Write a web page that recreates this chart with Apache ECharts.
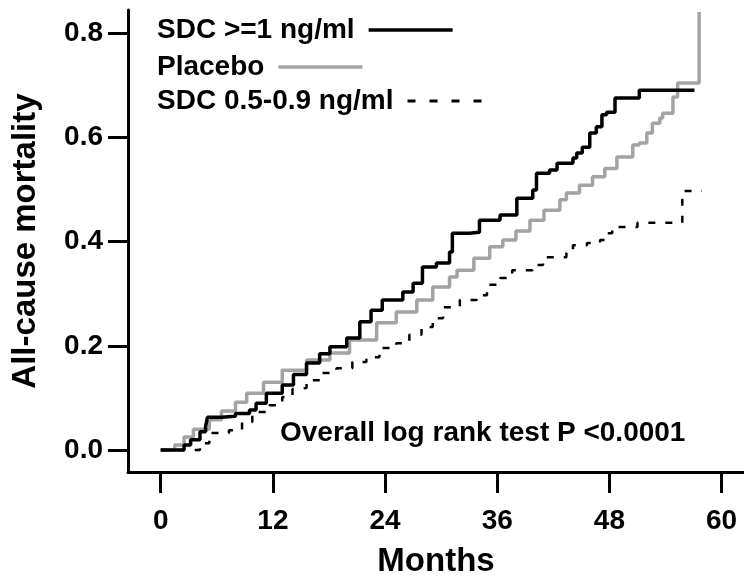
<!DOCTYPE html>
<html>
<head>
<meta charset="utf-8">
<script src="https://cdn.jsdelivr.net/npm/echarts@6/dist/echarts.min.js"></script>
<style>
  html, body { margin: 0; padding: 0; background: #fff; }
  #main { width: 744px; height: 584px; }
</style>
</head>
<body>
<div id="main"></div>
<script>
// 横轴刻度 / 纵轴刻度
const xTicks = [0, 12, 24, 36, 48, 60];
const yTicks = [0, 0.2, 0.4, 0.6, 0.8];

const seriesNames = ['SDC >=1 ng/ml', 'Placebo', 'SDC 0.5-0.9 ng/ml'];

// [month, mortality] pairs
const highSdc = [
  [0, 0], [1.5, 0], [2.5, 0.01], [3.2, 0.02], [4.2, 0.035], [4.8, 0.045], [5.0, 0.063],
  [6.5, 0.065], [8.0, 0.07], [9.5, 0.077], [10.2, 0.09], [11.3, 0.109], [13.0, 0.125],
  [14.2, 0.145], [15.6, 0.167], [17.0, 0.185], [18.1, 0.198], [19.9, 0.215], [21.3, 0.246],
  [22.5, 0.268], [23.7, 0.288], [25.9, 0.303], [27.0, 0.32], [28.0, 0.351], [29.5, 0.359],
  [30.9, 0.38], [31.2, 0.416], [33.0, 0.418], [34.1, 0.441], [36.3, 0.451], [38.1, 0.483],
  [39.8, 0.499], [40.2, 0.531], [41.6, 0.537], [42.4, 0.55], [44.1, 0.56], [44.5, 0.57],
  [45.1, 0.581], [45.9, 0.608], [46.6, 0.62], [47.2, 0.643], [47.7, 0.648], [48.6, 0.675],
  [51.2, 0.69], [57.1, 0.69]
];
const placebo = [
  [0, 0], [0.8, 0], [1.5, 0.01], [2.5, 0.025], [3.5, 0.04], [5.2, 0.058], [6.5, 0.075],
  [8.0, 0.092], [9.2, 0.109], [11.0, 0.13], [13.0, 0.153], [15.6, 0.173], [18.1, 0.186],
  [20.2, 0.211], [23.1, 0.244], [25.2, 0.265], [27.4, 0.288], [29.1, 0.313], [30.9, 0.332],
  [31.7, 0.345], [33.5, 0.368], [35.2, 0.39], [36.6, 0.403], [38.0, 0.42], [39.5, 0.441],
  [41.0, 0.46], [42.7, 0.48], [43.4, 0.493], [44.8, 0.508], [46.2, 0.524], [47.5, 0.54],
  [48.8, 0.562], [50.5, 0.585], [51.2, 0.589], [52.0, 0.608], [52.6, 0.627], [53.4, 0.637],
  [53.7, 0.646], [54.8, 0.677], [55.3, 0.704], [57.6, 0.84]
];
const lowSdc = [
  [0, 0], [3.7, 0], [4.2, 0.013], [5.2, 0.033], [7.3, 0.038], [8.7, 0.054], [9.8, 0.073],
  [11.6, 0.086], [13.0, 0.102], [14.1, 0.117], [14.5, 0.119], [15.6, 0.134], [17.3, 0.148],
  [18.8, 0.157], [20.5, 0.169], [22.0, 0.178], [23.4, 0.196], [25.2, 0.205], [26.6, 0.221],
  [27.9, 0.236], [29.1, 0.253], [30.2, 0.274], [32.0, 0.288], [33.8, 0.297], [34.9, 0.317],
  [36.3, 0.33], [37.6, 0.345], [39.8, 0.355], [40.9, 0.37], [43.4, 0.378], [44.1, 0.393],
  [45.6, 0.397], [47.0, 0.403], [47.7, 0.416], [48.3, 0.428], [51.0, 0.436], [55.8, 0.497],
  [57.9, 0.497]
];

const FONT = '"Liberation Sans", Arial, sans-serif';

// 图例：文字在左、线在右，每行一个
const makeLegend = (name, top, lineStyle) => ({
  data: [name],
  orient: 'vertical',
  align: 'right',
  left: 152,
  top: top,
  itemWidth: 84,
  itemHeight: 14,
  selectedMode: false,
  itemStyle: { opacity: 0 },
  lineStyle: lineStyle,
  textStyle: {
    fontFamily: FONT,
    fontWeight: 'bold',
    fontSize: 28,
    color: '#000',
    lineHeight: 30,
    padding: [0, 9, 0, 0]
  }
});

const initChart = () => {
  const main = document.getElementById('main');
  const myChart = echarts.init(main, null, { renderer: 'canvas' });
  const options = {
    animation: false,
    backgroundColor: '#fff',
    textStyle: { fontFamily: FONT, fontWeight: 'bold', color: '#000' },
    grid: { left: 128, right: 0, top: 10, bottom: 112, containLabel: false, outerBoundsMode: 'none' },
    legend: [
      makeLegend(seriesNames[0], 10, { width: 3.5 }),
      makeLegend(seriesNames[1], 47, { width: 3.5 }),
      makeLegend(seriesNames[2], 81, { width: 3, type: [8, 14] })
    ],
    xAxis: {
      type: 'value',
      min: -3.5,
      max: 62.4,
      name: 'Months',
      nameLocation: 'middle',
      nameGap: 73,
      nameTextStyle: { fontFamily: FONT, fontWeight: 'bold', fontSize: 33, color: '#000' },
      splitLine: { show: false },
      axisLine: { show: true, onZero: false, lineStyle: { color: '#000', width: 3 } },
      axisTick: {
        show: true,
        length: 21,
        customValues: xTicks,
        lineStyle: { color: '#000', width: 3 }
      },
      axisLabel: {
        customValues: xTicks,
        margin: 35,
        fontFamily: FONT,
        fontWeight: 'bold',
        fontSize: 28,
        color: '#000'
      }
    },
    yAxis: {
      type: 'value',
      min: -0.042,
      max: 0.844,
      name: 'All-cause mortality',
      nameLocation: 'middle',
      nameGap: 86,
      nameRotate: 90,
      nameTextStyle: { fontFamily: FONT, fontWeight: 'bold', fontSize: 33, color: '#000' },
      splitLine: { show: false },
      axisLine: { show: true, onZero: false, lineStyle: { color: '#000', width: 3 } },
      axisTick: {
        show: true,
        length: 20,
        customValues: yTicks,
        lineStyle: { color: '#000', width: 3 }
      },
      axisLabel: {
        customValues: yTicks,
        margin: 25,
        fontFamily: FONT,
        fontWeight: 'bold',
        fontSize: 28,
        color: '#000',
        formatter: (v) => v.toFixed(1)
      }
    },
    graphic: [
      {
        type: 'text',
        left: 280,
        top: 419,
        style: {
          text: 'Overall log rank test P <0.0001',
          font: 'bold 28px ' + FONT,
          fill: '#000'
        }
      }
    ],
    series: [
      {
        name: seriesNames[1],
        type: 'line',
        step: 'end',
        data: placebo,
        symbol: 'none',
        z: 2,
        lineStyle: { color: '#a3a3a3', width: 3.5 },
        itemStyle: { color: '#a3a3a3' }
      },
      {
        name: seriesNames[2],
        type: 'line',
        step: 'end',
        data: lowSdc,
        symbol: 'none',
        z: 3,
        lineStyle: { color: '#000', width: 2.5, type: [7, 10] },
        itemStyle: { color: '#000' }
      },
      {
        name: seriesNames[0],
        type: 'line',
        step: 'end',
        data: highSdc,
        symbol: 'none',
        z: 4,
        lineStyle: { color: '#000', width: 3.5 },
        itemStyle: { color: '#000' }
      }
    ]
  };
  myChart.setOption(options);
};

initChart();
</script>
</body>
</html>
